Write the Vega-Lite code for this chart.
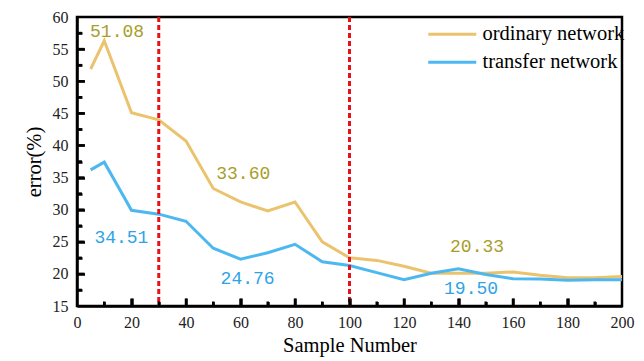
{
  "$schema": "https://vega.github.io/schema/vega-lite/v6.json",
  "width": 545,
  "height": 289,
  "autosize": {"type": "none"},
  "padding": {"left": 77, "top": 17, "right": 22, "bottom": 55},
  "config": {
    "view": {"stroke": "black", "strokeWidth": 2.5},
    "font": "Liberation Serif"
  },
  "resolve": {"axis": {"x": "independent", "y": "independent"}},
  "datasets": {
    "series": [
      {"x": 5, "error": 51.9, "series": "ordinary network"},
      {"x": 10, "error": 56.3, "series": "ordinary network"},
      {"x": 20, "error": 45.1, "series": "ordinary network"},
      {"x": 30, "error": 44.0, "series": "ordinary network"},
      {"x": 40, "error": 40.7, "series": "ordinary network"},
      {"x": 50, "error": 33.3, "series": "ordinary network"},
      {"x": 60, "error": 31.2, "series": "ordinary network"},
      {"x": 70, "error": 29.8, "series": "ordinary network"},
      {"x": 80, "error": 31.2, "series": "ordinary network"},
      {"x": 90, "error": 25.0, "series": "ordinary network"},
      {"x": 100, "error": 22.5, "series": "ordinary network"},
      {"x": 110, "error": 22.1, "series": "ordinary network"},
      {"x": 120, "error": 21.2, "series": "ordinary network"},
      {"x": 130, "error": 20.1, "series": "ordinary network"},
      {"x": 140, "error": 20.1, "series": "ordinary network"},
      {"x": 150, "error": 20.1, "series": "ordinary network"},
      {"x": 160, "error": 20.3, "series": "ordinary network"},
      {"x": 170, "error": 19.8, "series": "ordinary network"},
      {"x": 180, "error": 19.4, "series": "ordinary network"},
      {"x": 190, "error": 19.4, "series": "ordinary network"},
      {"x": 200, "error": 19.6, "series": "ordinary network"},
      {"x": 5, "error": 36.2, "series": "transfer network"},
      {"x": 10, "error": 37.4, "series": "transfer network"},
      {"x": 20, "error": 29.9, "series": "transfer network"},
      {"x": 30, "error": 29.3, "series": "transfer network"},
      {"x": 40, "error": 28.2, "series": "transfer network"},
      {"x": 50, "error": 24.0, "series": "transfer network"},
      {"x": 60, "error": 22.3, "series": "transfer network"},
      {"x": 70, "error": 23.3, "series": "transfer network"},
      {"x": 80, "error": 24.6, "series": "transfer network"},
      {"x": 90, "error": 21.9, "series": "transfer network"},
      {"x": 100, "error": 21.3, "series": "transfer network"},
      {"x": 110, "error": 20.2, "series": "transfer network"},
      {"x": 120, "error": 19.1, "series": "transfer network"},
      {"x": 130, "error": 20.1, "series": "transfer network"},
      {"x": 140, "error": 20.8, "series": "transfer network"},
      {"x": 150, "error": 19.9, "series": "transfer network"},
      {"x": 160, "error": 19.25, "series": "transfer network"},
      {"x": 170, "error": 19.2, "series": "transfer network"},
      {"x": 180, "error": 19.0, "series": "transfer network"},
      {"x": 190, "error": 19.1, "series": "transfer network"},
      {"x": 200, "error": 19.1, "series": "transfer network"}
    ],
    "dividers": [{"x": 30}, {"x": 100}],
    "xMajor": [{"x": 20}, {"x": 40}, {"x": 60}, {"x": 80}, {"x": 100}, {"x": 120}, {"x": 140}, {"x": 160}, {"x": 180}],
    "xMinor": [{"x": 10}, {"x": 30}, {"x": 50}, {"x": 70}, {"x": 90}, {"x": 110}, {"x": 130}, {"x": 150}, {"x": 170}, {"x": 190}],
    "yMajor": [{"error": 20}, {"error": 25}, {"error": 30}, {"error": 35}, {"error": 40}, {"error": 45}, {"error": 50}, {"error": 55}],
    "yMinor": [{"error": 17.5}, {"error": 22.5}, {"error": 27.5}, {"error": 32.5}, {"error": 37.5}, {"error": 42.5}, {"error": 47.5}, {"error": 52.5}, {"error": 57.5}],
    "notes": [
      {"x": 14.7, "error": 57.6, "label": "51.08", "series": "ordinary network"},
      {"x": 61, "error": 35.5, "label": "33.60", "series": "ordinary network"},
      {"x": 146.8, "error": 24.2, "label": "20.33", "series": "ordinary network"},
      {"x": 16.3, "error": 25.6, "label": "34.51", "series": "transfer network"},
      {"x": 62.6, "error": 19.25, "label": "24.76", "series": "transfer network"},
      {"x": 144.6, "error": 17.6, "label": "19.50", "series": "transfer network"}
    ]
  },
  "layer": [
    {
      "data": {"name": "series"},
      "mark": {"type": "line", "strokeWidth": 3},
      "encoding": {
        "x": {
          "field": "x",
          "type": "quantitative",
          "scale": {"domain": [0, 200], "nice": false, "zero": false},
          "axis": {
            "orient": "bottom",
            "title": "Sample Number",
            "titleFont": "Liberation Serif",
            "titleFontSize": 20.5,
            "titleFontWeight": "normal",
            "titleColor": "black",
            "titlePadding": 5,
            "grid": false,
            "values": [0,20,40,60,80,100,120,140,160,180,200],
            "ticks": false,
            "domainColor": "black",
            "domainWidth": 2.5,
            "labelPadding": 8,
            "labelFont": "Liberation Serif",
            "labelFontSize": 16,
            "labelColor": "#222",
            "labelFlush": false,
            "labelOverlap": false
          }
        },
        "y": {
          "field": "error",
          "type": "quantitative",
          "scale": {"domain": [15, 60], "nice": false, "zero": false},
          "axis": {
            "orient": "left",
            "title": "error(%)",
            "titleFont": "Liberation Serif",
            "titleFontSize": 20.5,
            "titleFontWeight": "normal",
            "titleColor": "black",
            "titlePadding": 8,
            "grid": false,
            "values": [15,20,25,30,35,40,45,50,55,60],
            "ticks": false,
            "domainColor": "black",
            "domainWidth": 2.5,
            "labelPadding": 9,
            "labelFont": "Liberation Serif",
            "labelFontSize": 16,
            "labelColor": "#222",
            "labelFlush": false,
            "labelOverlap": false
          }
        },
        "color": {
          "field": "series",
          "type": "nominal",
          "scale": {"domain": ["ordinary network", "transfer network"], "range": ["#EBC36E", "#4DB8F0"]},
          "legend": {
            "title": null,
            "orient": "none",
            "legendX": 365,
            "legendY": 7,
            "symbolType": "M-3,0H3",
            "symbolSize": 256,
            "symbolStrokeWidth": 3,
            "labelFont": "Liberation Serif",
            "labelFontSize": 20.5,
            "labelColor": "black",
            "labelOffset": 20,
            "rowPadding": 7,
            "labelLimit": 300
          }
        }
      }
    },
    {
      "data": {"name": "dividers"},
      "mark": {"type": "rule", "color": "#E8101A", "strokeWidth": 3, "strokeDash": [5, 3]},
      "encoding": {"x": {"field": "x", "type": "quantitative", "axis": null}}
    },
    {
      "data": {"name": "xMajor"},
      "mark": {"type": "rule", "color": "black", "strokeWidth": 2.5},
      "encoding": {
        "x": {
          "field": "x",
          "type": "quantitative",
          "axis": {
            "orient": "top",
            "offset": -289,
            "title": null,
            "labels": false,
            "domain": false,
            "grid": false,
            "ticks": true,
            "values": [20,40,60,80,100,120,140,160,180],
            "tickSize": 8,
            "tickWidth": 2.5,
            "tickColor": "black"
          }
        },
        "y": {"datum": 15, "type": "quantitative", "axis": null},
        "y2": {"datum": 16.15}
      }
    },
    {
      "data": {"name": "xMinor"},
      "mark": {"type": "rule", "color": "black", "strokeWidth": 2.5},
      "encoding": {
        "x": {
          "field": "x",
          "type": "quantitative",
          "axis": {
            "orient": "top",
            "offset": -289,
            "title": null,
            "labels": false,
            "domain": false,
            "grid": false,
            "ticks": true,
            "values": [10,30,50,70,90,110,130,150,170,190],
            "tickSize": 4.5,
            "tickWidth": 2.5,
            "tickColor": "black"
          }
        },
        "y": {"datum": 15, "type": "quantitative", "axis": null},
        "y2": {"datum": 15.7}
      }
    },
    {
      "data": {"name": "yMajor"},
      "mark": {"type": "rule", "color": "black", "strokeWidth": 2.5},
      "encoding": {
        "y": {
          "field": "error",
          "type": "quantitative",
          "axis": {
            "orient": "right",
            "offset": -545,
            "title": null,
            "labels": false,
            "domain": false,
            "grid": false,
            "ticks": true,
            "values": [20,25,30,35,40,45,50,55],
            "tickSize": 7.5,
            "tickWidth": 2.5,
            "tickColor": "black"
          }
        },
        "x": {"datum": 0, "type": "quantitative", "axis": null},
        "x2": {"datum": 2.75}
      }
    },
    {
      "data": {"name": "yMinor"},
      "mark": {"type": "rule", "color": "black", "strokeWidth": 2.5},
      "encoding": {
        "y": {
          "field": "error",
          "type": "quantitative",
          "axis": {
            "orient": "right",
            "offset": -545,
            "title": null,
            "labels": false,
            "domain": false,
            "grid": false,
            "ticks": true,
            "values": [17.5,22.5,27.5,32.5,37.5,42.5,47.5,52.5,57.5],
            "tickSize": 5,
            "tickWidth": 2.5,
            "tickColor": "black"
          }
        },
        "x": {"datum": 0, "type": "quantitative", "axis": null},
        "x2": {"datum": 1.8}
      }
    },
    {
      "data": {"name": "notes"},
      "transform": [{"filter": "datum.series === 'ordinary network'"}],
      "mark": {"type": "text", "font": "Liberation Mono", "fontSize": 18, "color": "#A89E2A", "align": "center", "baseline": "middle"},
      "encoding": {
        "x": {"field": "x", "type": "quantitative", "axis": null},
        "y": {"field": "error", "type": "quantitative", "axis": null},
        "text": {"field": "label"}
      }
    },
    {
      "data": {"name": "notes"},
      "transform": [{"filter": "datum.series === 'transfer network'"}],
      "mark": {"type": "text", "font": "Liberation Mono", "fontSize": 18, "color": "#2EA3E6", "align": "center", "baseline": "middle"},
      "encoding": {
        "x": {"field": "x", "type": "quantitative", "axis": null},
        "y": {"field": "error", "type": "quantitative", "axis": null},
        "text": {"field": "label"}
      }
    }
  ]
}
